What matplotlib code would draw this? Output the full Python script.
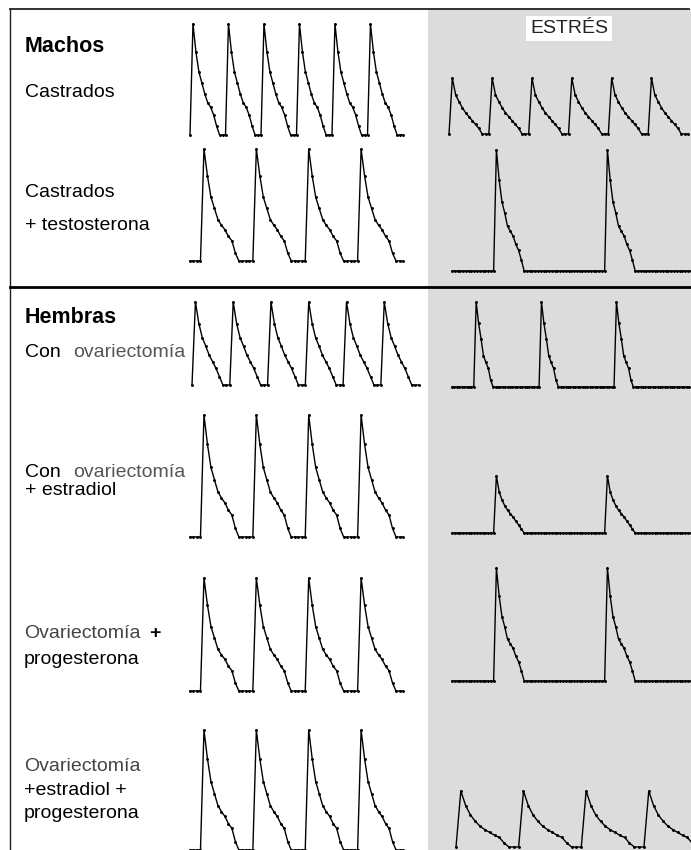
import matplotlib.pyplot as plt
from matplotlib.patches import Rectangle

plt.rcParams['font.family'] = ['Liberation Sans', 'DejaVu Sans']

W, H = 691, 850

# pulse shapes: one value per sample, 1 = peak, 0 = baseline
shape_long = [1.0, 0.76, 0.57, 0.47, 0.37, 0.32, 0.28, 0.22, 0.18, 0.07, 0.0]
shape_short = [1.0, 0.75, 0.57, 0.47, 0.37, 0.29, 0.25, 0.18, 0.08, 0.0]
shape_ovx = [1.0, 0.74, 0.57, 0.47, 0.36, 0.28, 0.20, 0.10, 0.0]
shape_stress_small = [1.0, 0.70, 0.58, 0.47, 0.38, 0.31, 0.24, 0.17, 0.10, 0.0]
shape_stress_long = [1.0, 0.75, 0.57, 0.48, 0.37, 0.33, 0.29, 0.22, 0.17, 0.09, 0.0]
shape_stress_narrow = [1.0, 0.75, 0.57, 0.37, 0.29, 0.22, 0.08, 0.0]
shape_stress_low = [1.0, 0.72, 0.58, 0.48, 0.40, 0.34, 0.28, 0.21, 0.14, 0.07, 0.0]
shape_stress_slow = [1.0, 0.74, 0.57, 0.46, 0.37, 0.31, 0.26, 0.21, 0.17, 0.07, 0.0]

# baseline samples: [before first pulse, between pulses ..., after last pulse]
runs_castrados = [1, 2, 2, 2, 2, 2, 2]
runs_castrados_stress = [1, 2, 2, 2, 2, 2, 2]
runs_four = [4, 4, 4, 4, 2]
runs_two_stress = [16, 29, 20]
runs_ovx = [1, 2, 2, 2, 2, 2, 2]
runs_ovx_stress = [10, 19, 23, 23]
runs_e_p_stress = [1, 2, 2, 2, 2]


def pulse_train(shape, runs):
    y = [0.0] * runs[0]
    for r in runs[1:]:
        y += shape + [0.0] * r
    return y


def trace(fig, y, x0, x1, ytop, ybase):
    # box in pixels: first sample x0, last sample x1, peak level ytop, baseline ybase
    ax = fig.add_axes([x0 / W, 1 - ybase / H, (x1 - x0) / W, (ybase - ytop) / H])
    ax.plot(range(len(y)), y, color='black', lw=1.0, marker='o', ms=1.1,
            clip_on=False)
    ax.set_xlim(0, len(y) - 1)
    ax.set_ylim(0, 1)
    ax.set_axis_off()
    ax.patch.set_alpha(0)
    return ax


fig = plt.figure(figsize=(W / 100, H / 100), dpi=100)
bg = fig.add_axes([0, 0, 1, 1])
bg.set_xlim(0, W)
bg.set_ylim(H, 0)
bg.set_axis_off()

# stress column and frame
bg.add_patch(Rectangle((428, 9), W - 428, H - 9, facecolor='#dcdcdc',
                       edgecolor='none', zorder=0))
bg.plot([10, 689], [9, 9], color='#222222', lw=1.3)
bg.plot([10, 10], [9, H], color='#222222', lw=1.0)
bg.plot([10, W], [287, 287], color='black', lw=2.0)

bg.text(569, 33, 'ESTRÉS', ha='center', va='baseline', fontsize=14,
        color='#222222',
        bbox=dict(facecolor='white', edgecolor='none', pad=3))

# labels
bg.text(25, 52, 'Machos', fontsize=15.5, fontweight='bold', va='baseline')
bg.text(25, 97, 'Castrados', fontsize=14, va='baseline')
bg.text(25, 197, 'Castrados', fontsize=14, va='baseline')
bg.text(25, 230, '+ testosterona', fontsize=14, va='baseline')

bg.text(25, 323, 'Hembras', fontsize=15.5, fontweight='bold', va='baseline')
bg.text(25, 357, 'Con', fontsize=14, va='baseline')
bg.text(73, 357, 'ovariectomía', fontsize=14, color='#555555', va='baseline')
bg.text(25, 477, 'Con', fontsize=14, va='baseline')
bg.text(73, 477, 'ovariectomía', fontsize=14, color='#555555', va='baseline')
bg.text(25, 495, '+ estradiol', fontsize=14, va='baseline')

bg.text(24, 638, 'Ovariectomía', fontsize=14, color='#444444', va='baseline')
bg.text(149, 638, '+', fontsize=14, fontweight='bold', va='baseline')
bg.text(24, 664, 'progesterona', fontsize=14, va='baseline')

bg.text(24, 771, 'Ovariectomía', fontsize=14, color='#444444', va='baseline')
bg.text(24, 795, '+estradiol +', fontsize=14, va='baseline')
bg.text(24, 818, 'progesterona', fontsize=14, va='baseline')

# machos
trace(fig, pulse_train(shape_short, runs_castrados), 190, 403, 24, 135)
trace(fig, pulse_train(shape_stress_small, runs_castrados_stress), 449, 688, 78, 134)
trace(fig, pulse_train(shape_long, runs_four), 190, 403, 149, 261)
trace(fig, pulse_train(shape_stress_long, runs_two_stress), 452, 690.7, 150, 271)

# hembras
trace(fig, pulse_train(shape_ovx, runs_ovx), 192, 418.6, 302, 385)
trace(fig, pulse_train(shape_stress_narrow, runs_ovx_stress), 452, 689, 302, 387)
trace(fig, pulse_train(shape_long, runs_four), 190, 403, 415, 537)
trace(fig, pulse_train(shape_stress_low, runs_two_stress), 452, 690.7, 476, 533)
trace(fig, pulse_train(shape_long, runs_four), 190, 403, 578, 691)
trace(fig, pulse_train(shape_stress_long, runs_two_stress), 452, 690.7, 568, 681)
trace(fig, pulse_train(shape_long, runs_four), 190, 403, 730, 850)
trace(fig, pulse_train(shape_stress_slow, runs_e_p_stress), 456, 706.6, 791, 847)

fig.savefig('out.png', dpi=100)
